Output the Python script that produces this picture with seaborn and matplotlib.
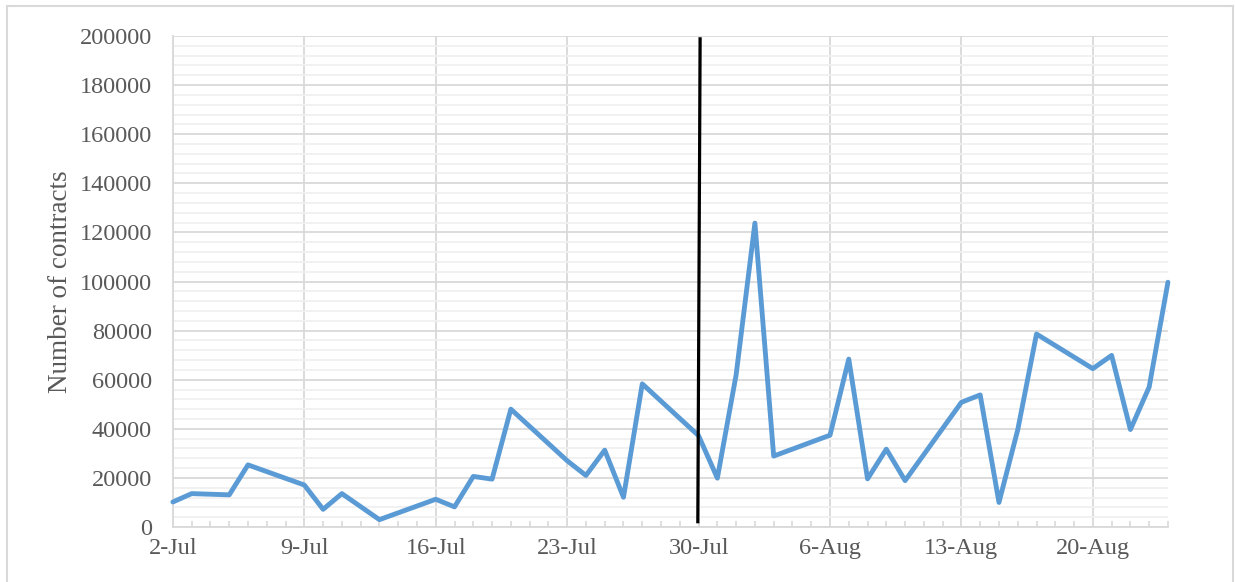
import matplotlib
matplotlib.use("Agg")
import matplotlib.pyplot as plt
import matplotlib.dates as mdates
from matplotlib.patches import Rectangle
import seaborn as sns
import pandas as pd
import numpy as np

# Daily trading days (weekends skipped) and contract counts
dates = [
    "2018-07-02", "2018-07-03", "2018-07-05", "2018-07-06", "2018-07-09",
    "2018-07-10", "2018-07-11", "2018-07-13", "2018-07-16", "2018-07-17",
    "2018-07-18", "2018-07-19", "2018-07-20", "2018-07-23", "2018-07-24",
    "2018-07-25", "2018-07-26", "2018-07-27", "2018-07-30", "2018-07-31",
    "2018-08-01", "2018-08-02", "2018-08-03", "2018-08-06", "2018-08-07",
    "2018-08-08", "2018-08-09", "2018-08-10", "2018-08-13", "2018-08-14",
    "2018-08-15", "2018-08-16", "2018-08-17", "2018-08-20", "2018-08-21",
    "2018-08-22", "2018-08-23", "2018-08-24",
]
contracts = [
    10200, 13600, 13100, 25300, 17100,
    7200, 13600, 3000, 11300, 8200,
    20600, 19500, 48000, 27000, 21000,
    31300, 12100, 58300, 37200, 19900,
    62000, 123800, 28900, 37400, 68400,
    19600, 31700, 18900, 50800, 53800,
    10000, 39600, 78600, 64500, 69900,
    39700, 57000, 99700,
]

# Event marker (vertical reference line around 30-Jul)
marker_x = ["2018-07-29 23:00", "2018-07-30 02:00"]
marker_y = [1500, 199500]

df = pd.DataFrame({"date": pd.to_datetime(dates), "contracts": contracts})

sns.set_theme(style="white")
plt.rcParams["font.family"] = ["Liberation Serif", "DejaVu Serif"]

grey_text = "#595959"
major_grid = "#D9D9D9"
minor_grid = "#F0F0F0"

fig = plt.figure(figsize=(12.35, 5.82), dpi=100)
ax = fig.add_axes([0.140, 0.0945, 0.8057, 0.8436])

sns.lineplot(data=df, x="date", y="contracts", ax=ax, color="#5B9BD5",
             linewidth=3.5, solid_joinstyle="round", solid_capstyle="round",
             zorder=3, clip_on=False)

ax.plot(pd.to_datetime(marker_x), marker_y, color="black", linewidth=2.3,
        zorder=4, solid_capstyle="butt")

ax.set_xlim(pd.Timestamp("2018-07-02"), pd.Timestamp("2018-08-24"))
ax.set_ylim(0, 200000)

ticks = pd.date_range("2018-07-02", "2018-08-24", freq="7D")
ax.set_xticks(ticks)
ax.set_xticklabels([f"{d.day}-{d.strftime('%b')}" for d in ticks])
ax.xaxis.set_minor_locator(mdates.DayLocator())

ax.set_yticks(np.arange(0, 200001, 20000))
ax.set_yticks(np.arange(0, 200001, 4000), minor=True)

ax.grid(True, which="major", axis="both", color=major_grid, linewidth=1.3, zorder=1)
ax.grid(True, which="minor", axis="y", color=minor_grid, linewidth=1.3, zorder=0)
ax.set_axisbelow(True)

for side in ["top", "right"]:
    ax.spines[side].set_visible(False)
for side in ["left", "bottom"]:
    ax.spines[side].set_color(major_grid)
    ax.spines[side].set_linewidth(1.3)

ax.tick_params(axis="y", which="both", length=0, pad=15, labelsize=17.5,
               labelcolor=grey_text)
ax.tick_params(axis="x", which="major", length=0, pad=8, labelsize=17.5,
               labelcolor=grey_text)
ax.tick_params(axis="x", which="minor", direction="in", length=4, width=1.2,
               color=major_grid, bottom=True)

ax.set_xlabel("")
ax.set_ylabel("Number of contracts", fontsize=19.5, color=grey_text, labelpad=5)

# Chart-area frame
fig.patches.append(Rectangle((7 / 1235, -0.1), 1226 / 1235, 1.1 - 6 / 582,
                             transform=fig.transFigure, fill=False,
                             edgecolor=major_grid, linewidth=1.5))

fig.savefig("out.png", dpi=100)
